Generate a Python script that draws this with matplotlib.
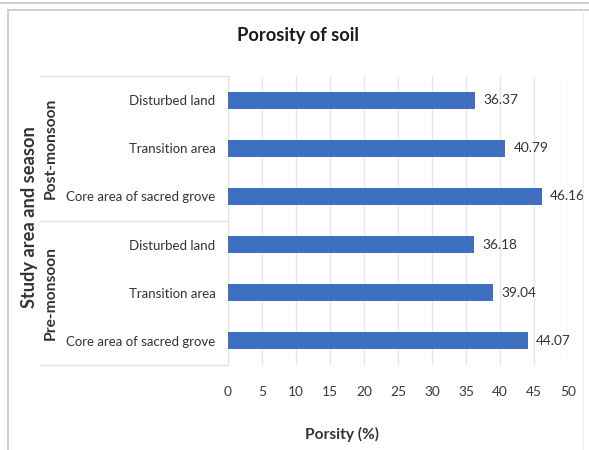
import matplotlib
matplotlib.use("Agg")
import matplotlib.pyplot as plt
from matplotlib.lines import Line2D
from matplotlib import font_manager

seasons = ["Post-monsoon", "Pre-monsoon"]
areas = ["Disturbed land", "Transition area", "Core area of sacred grove"]
post_values = [36.37, 40.79, 46.16]
pre_values = [36.18, 39.04, 44.07]
x_ticks = [0, 5, 10, 15, 20, 25, 30, 35, 40, 45, 50]

names = {f.name for f in font_manager.fontManager.ttflist}
fam = "Lato" if "Lato" in names else "DejaVu Sans"
plt.rcParams["font.family"] = [fam, "DejaVu Sans"]

W, H = 589, 450
fig = plt.figure(figsize=(W / 100, H / 100), dpi=100)
fig.patch.set_facecolor("white")
renderer = fig.canvas.get_renderer()

def fx(px):
    return px / W

def fy(py):
    return 1 - py / H

def fit_size(s, target_px, weight="normal", base=10.0):
    t = fig.text(0, 0, s, fontsize=base, fontweight=weight)
    w = t.get_window_extent(renderer=renderer).width
    t.remove()
    return base * target_px / w

cat_fs = fit_size("Core area of sacred grove", 150)
val_fs = fit_size("46.16", 35)
tick_fs = fit_size("50", 16)
title_fs = fit_size("Porosity of soil", 122, "bold")
xlab_fs = fit_size("Porsity (%)", 74, "bold")
ylab_fs = fit_size("Study area and season", 182, "bold")
grp_fs = fit_size("Post-monsoon", 102, "bold")

# outer frames
fig.add_artist(Line2D([0, 1], [fy(3), fy(3)], color="#c8c8c8", lw=1.2, transform=fig.transFigure))
fig.add_artist(Line2D([fx(8), 1], [fy(10), fy(10)], color="#c8c8c8", lw=1.2, transform=fig.transFigure))
fig.add_artist(Line2D([fx(8), fx(8)], [fy(10), 0], color="#c8c8c8", lw=1.2, transform=fig.transFigure))
fig.add_artist(Line2D([fx(583), fx(583)], [fy(10), 0], color="#eeeeee", lw=1.0, transform=fig.transFigure))

left, right, top, bottom = 228, 568, 76, 365
ax = fig.add_axes([fx(left), fy(bottom), fx(right) - fx(left), fy(top) - fy(bottom)])

labels = areas + areas
values = post_values + pre_values
ypos = list(range(len(values)))
bar_color = "#3f70c0"
ax.barh(ypos, values, height=0.35, color=bar_color, zorder=3)
ax.set_ylim(len(values) - 0.5, -0.5)
ax.set_xlim(0, 50)
ax.set_xticks(x_ticks)
ax.set_xticklabels([str(t) for t in x_ticks], fontsize=tick_fs, color="#3a3a3a")
ax.tick_params(axis="x", length=0, pad=15)
ax.set_yticks(ypos)
ax.set_yticklabels(labels, fontsize=cat_fs, color="#333333")
ax.tick_params(axis="y", length=0, pad=9)
ax.grid(axis="x", color="#e6e6e6", lw=1.0, zorder=0)
for s in ["top", "right", "bottom"]:
    ax.spines[s].set_visible(False)
ax.spines["left"].set_color("#e3e3e3")

for y, v in zip(ypos, values):
    ax.text(v + 1.2, y, f"{v:.2f}", va="center", ha="left", fontsize=val_fs, color="#333333")

# category box lines
lc = "#e3e3e3"
mid = (top + bottom) / 2
for yy in [top, mid, bottom]:
    fig.add_artist(Line2D([fx(40), fx(left)], [fy(yy), fy(yy)], color=lc, lw=1.0, transform=fig.transFigure))

# group labels
for i, s in enumerate(seasons):
    yc = top + (bottom - top) * (0.25 + 0.5 * i)
    fig.text(fx(51), fy(yc), s, rotation=90, ha="center", va="center", fontsize=grp_fs,
             fontweight="bold", color="#333333")

fig.text(fx(30), fy(mid - 3), "Study area and season", rotation=90, ha="center", va="center",
         fontsize=ylab_fs, fontweight="bold", color="#333333")

fig.text(fx(298), fy(35), "Porosity of soil", ha="center", va="center", fontsize=title_fs,
         fontweight="bold", color="#1a1a1a")
fig.text(fx(342), fy(434), "Porsity (%)", ha="center", va="center", fontsize=xlab_fs,
         fontweight="bold", color="#333333")

fig.savefig("out.png", dpi=100, facecolor="white")
